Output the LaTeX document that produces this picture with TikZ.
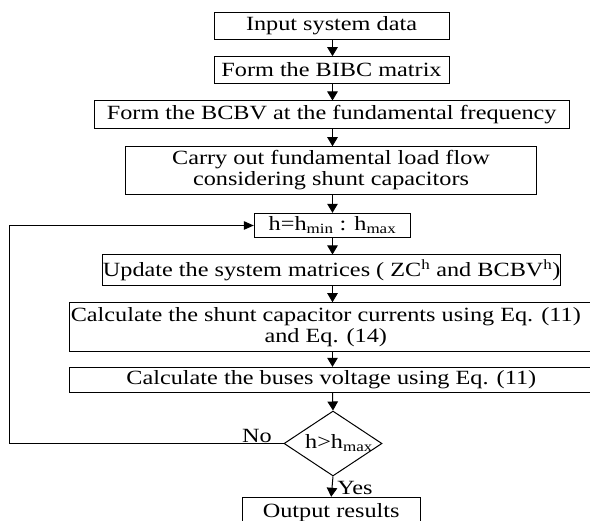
\documentclass[tikz,border=0pt]{standalone}
\usepackage{fontspec}
\setmainfont{Liberation Serif}[FakeStretch=1.2]
\usetikzlibrary{arrows.meta,shapes.geometric}
\begin{document}
\begin{tikzpicture}[x=1pt,y=-1pt,
  box/.style={draw,line width=1pt,inner sep=0pt,align=center},
  txt/.style={inner sep=0pt,align=center},
  varr/.style={line width=1pt,-{Triangle[length=9pt,width=10.5pt]}},
  harr/.style={line width=1pt,-{Triangle[length=10pt,width=8.5pt]}},
  every node/.append style={font=\fontsize{20.2}{21}\selectfont}]
\useasboundingbox (0,0) rectangle (590,521);
\coordinate (ax) at (332.5,0);
\node[box,minimum width=235pt,minimum height=27.3pt] (n1) at (331.5,25.7) {Input system data};
\node[box,minimum width=235pt,minimum height=26.7pt] (n2) at (331.5,70) {Form the BIBC matrix};
\node[box,minimum width=474.7pt,minimum height=28pt] (n3) at (331.7,115) {Form the BCBV at the fundamental frequency};
\node[box,minimum width=411.4pt,minimum height=47.6pt] (n4) at (331,170.5) {Carry out fundamental load flow\\considering shunt capacitors};
\node[box,minimum width=156.4pt,minimum height=24.4pt] (n5) at (332.5,225.5) {h=h\textsubscript{min} : h\textsubscript{max}};
\node[box,minimum width=458pt,minimum height=30.5pt] (n6) at (331.7,270.2) {Update the system matrices ( ZC\textsuperscript{h} and BCBV\textsuperscript{h})};
\node[box,minimum width=530.7pt,minimum height=49pt] (n7) at (334.65,327.2) {};
\node[txt] (t7) at (325.8,327.2) {Calculate the shunt capacitor currents using Eq. (11)\\and Eq. (14)};
\node[box,minimum width=530.7pt,minimum height=25.4pt] (n8) at (334.65,380) {};
\node[txt] (t8) at (331.3,380) {Calculate the buses voltage using Eq. (11)};
\node[draw,line width=1pt,diamond,inner sep=0pt,minimum width=98pt,minimum height=65pt] (d) at (333,443.5) {};
\node[txt] (td) at (339,443.5) {h>h\textsubscript{max}};
\node[box,minimum width=177.7pt,minimum height=32.6pt] (n9) at (331.2,513.6) {};
\node[txt,anchor=base] (t9) at (331.2,517.5) {Output results};
\node[txt] (no) at (257,436) {No};
\node[txt] (yes) at (355,488) {Yes};
\coordinate (lc) at (9.3,0);
\draw[varr] (ax |- n1.south) -- (ax |- n2.north);
\draw[varr] (ax |- n2.south) -- (ax |- n3.north);
\draw[varr] (ax |- n3.south) -- (ax |- n4.north);
\draw[varr] (ax |- n4.south) -- (ax |- n5.north);
\draw[varr] (ax |- n5.south) -- (ax |- n6.north);
\draw[varr] (ax |- n6.south) -- (ax |- n7.north);
\draw[varr] (ax |- n7.south) -- (ax |- n8.north);
\draw[varr] (ax |- n8.south) -- (d.north);
\draw[varr] (d.south) -- (n9.north);
\draw[harr] (d.west) -- (lc |- d.west) -- (lc |- n5.west) -- (n5.west);
\end{tikzpicture}
\end{document}
